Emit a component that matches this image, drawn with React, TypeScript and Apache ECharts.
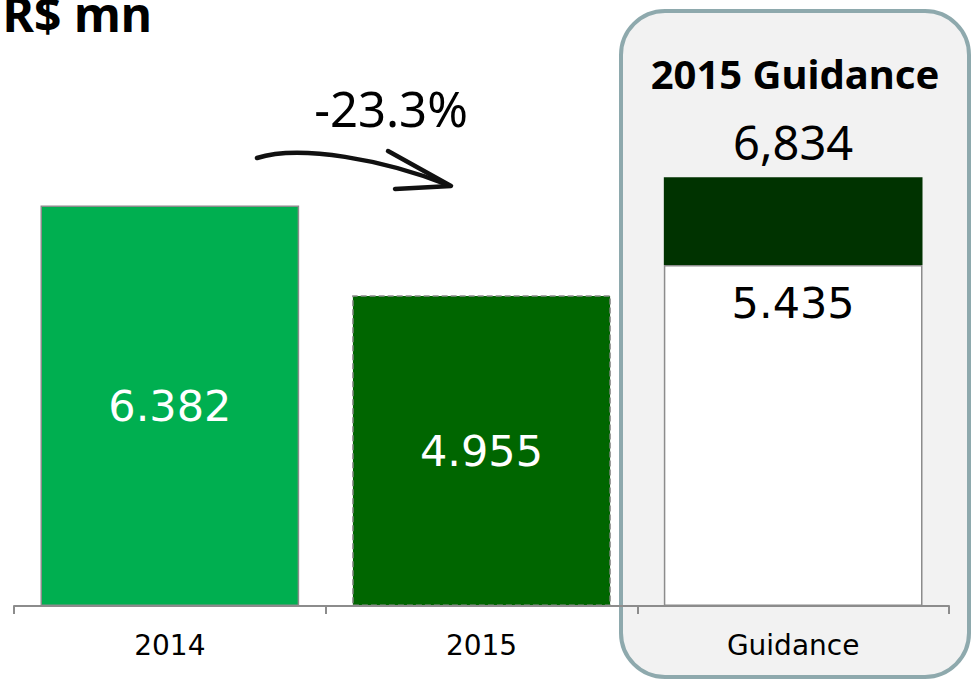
import React, { useEffect, useRef } from "react";
import * as echarts from "echarts";

const categories = ["2014", "2015", "Guidance"];
const actualValues = [6.382, 4.955];
const guidanceBase = 5.435;
const guidanceTotal = 6.834;
const changeLabel = "-23.3%";
const unitLabel = "R$ mn";
const guidanceTitle = "2015 Guidance";

export default function App() {
  const ref = useRef<HTMLDivElement>(null);
  useEffect(() => {
    if (!ref.current) return;
    const chart = echarts.init(ref.current, undefined, { renderer: "svg" });
    const fmt3 = (v: number) => v.toFixed(3);
    const actualColors = ["#00AF50", "#006600"];
    const option: any = {
      animation: false,
      grid: { left: 14, right: 22, top: 10, bottom: 75 },
      xAxis: {
        type: "category",
        data: categories,
        boundaryGap: true,
        axisLine: { lineStyle: { color: "#8c8c8c", width: 2 } },
        axisTick: { show: true, length: 8, lineStyle: { color: "#8c8c8c", width: 2 } },
        axisLabel: { color: "#000", fontFamily: "DejaVu Sans", fontSize: 28, margin: 25 },
        z: 5,
      },
      yAxis: { type: "value", min: 0, max: 9.5, show: false, splitLine: { show: false } },
      series: [
        {
          type: "bar",
          stack: "s",
          barWidth: "83%",
          z: 3,
          data: [
            ...actualValues.map((v, i) => ({
              value: v,
              itemStyle: {
                color: actualColors[i],
                borderColor: "#8c8c8c",
                borderWidth: 1.5,
                borderType: i === 1 ? "dashed" : "solid",
              },
            })),
            "-",
          ],
          label: {
            show: true,
            position: "inside",
            color: "#fff",
            fontFamily: "DejaVu Sans",
            fontSize: 43,
            formatter: (p: any) => fmt3(p.value),
          },
        },
        {
          type: "bar",
          stack: "s",
          barWidth: "83%",
          z: 3,
          data: ["-", "-", guidanceBase],
          itemStyle: { color: "#ffffff", borderColor: "#8c8c8c", borderWidth: 1.5 },
          label: {
            show: true,
            position: "insideTop",
            distance: 16,
            color: "#000",
            fontFamily: "DejaVu Sans",
            fontSize: 43,
            formatter: (p: any) => fmt3(p.value),
          },
        },
        {
          type: "bar",
          stack: "s",
          barWidth: "83%",
          z: 3,
          data: ["-", "-", +(guidanceTotal - guidanceBase).toFixed(3)],
          itemStyle: { color: "#003300" },
          label: {
            show: true,
            position: "top",
            distance: 12,
            color: "#000",
            fontFamily: "Noto Sans",
            fontSize: 47,
            formatter: () => guidanceTotal.toFixed(3).replace(".", ","),
          },
        },
      ],
      graphic: [
        {
          type: "rect",
          z: -1,
          shape: { x: 621, y: 11, width: 348, height: 666, r: 44 },
          style: { fill: "#F2F2F2", stroke: "#8EA9AD", lineWidth: 4 },
        },
        {
          type: "text",
          z: 10,
          style: {
            text: guidanceTitle,
            x: 795,
            y: 73,
            font: "bold 40px 'Noto Sans'",
            fill: "#000",
            align: "center",
            textAlign: "center",
            verticalAlign: "middle",
            textVerticalAlign: "middle",
          },
        },
        {
          type: "text",
          z: 10,
          style: {
            text: unitLabel,
            x: 152,
            y: 13,
            font: "bold 48px 'Noto Sans'",
            fill: "#000",
            align: "right",
            textAlign: "right",
            verticalAlign: "middle",
            textVerticalAlign: "middle",
          },
        },
        {
          type: "text",
          z: 10,
          style: {
            text: changeLabel,
            x: 391,
            y: 108,
            font: "49px 'Noto Sans'",
            fill: "#000",
            align: "center",
            textAlign: "center",
            verticalAlign: "middle",
            textVerticalAlign: "middle",
          },
        },
        {
          type: "bezierCurve",
          z: 10,
          shape: { x1: 257, y1: 158, cpx1: 300, cpy1: 144, cpx2: 385, cpy2: 160, x2: 448, y2: 185 },
          style: { stroke: "#111", lineWidth: 4.5, fill: "none", lineCap: "round" },
        },
        {
          type: "polyline",
          z: 10,
          shape: { points: [[388, 151], [451, 186], [395, 189]] },
          style: { stroke: "#111", lineWidth: 4.5, fill: "none", lineCap: "round", lineJoin: "round" },
        },
      ],
    };
    chart.setOption(option);
    return () => chart.dispose();
  }, []);
  return (
    <div
      ref={ref}
      style={{ position: "fixed", left: 0, top: 0, width: 971, height: 681, background: "#fff" }}
    />
  );
}
